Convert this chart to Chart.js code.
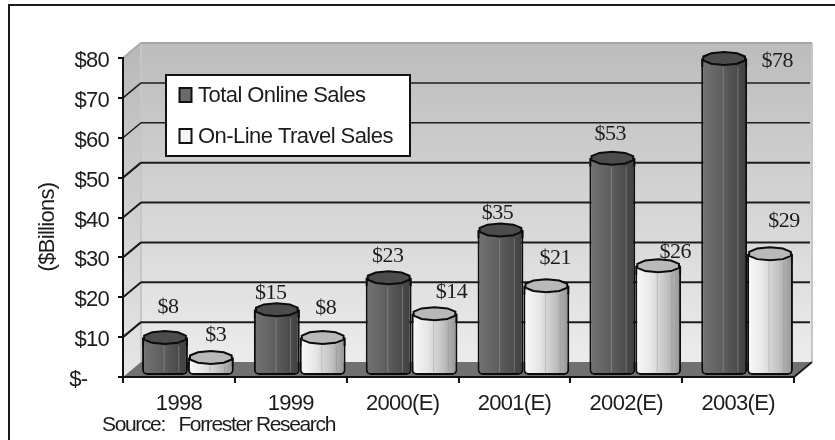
<!DOCTYPE html>
<html>
<head>
<meta charset="utf-8">
<style>
  html, body { margin: 0; padding: 0; background: #fff; }
  canvas { display: block; }
</style>
</head>
<body>
<canvas id="sales" width="835" height="440"></canvas>
<script src="https://cdn.jsdelivr.net/npm/chart.js@4/dist/chart.umd.min.js"></script>
<script>
const categories = ['1998', '1999', '2000(E)', '2001(E)', '2002(E)', '2003(E)']
const totalOnlineSales = [8, 15, 23, 35, 53, 78]
const onlineTravelSales = [3, 8, 14, 21, 26, 29]
const yTickLabels = ['$-', '$10', '$20', '$30', '$40', '$50', '$60', '$70', '$80']

// where each value label sits relative to the top of its bar
const totalLabelOffsets = [[3, -38], [-6, -24], [-1, -29], [-3, -24], [-2, -31], [53, -5]]
const travelLabelOffsets = [[5, -30], [3, -37], [17, -29], [9, -35], [17, -21], [14, -40]]

const SANS = '"Liberation Sans", Arial, sans-serif'
const SERIF = '"Liberation Serif", "Times New Roman", serif'
const DEPTH_X = 18
const DEPTH_Y = 15
const BAR_SHIFT = 9
const CAP_H = 13

const darkStops = [[0, '#747474'], [0.5, '#5c5c5c'], [1, '#3e3e3e']]
const lightStops = [[0, '#fbfbfb'], [0.35, '#e6e6e6'], [0.7, '#c0c0c0'], [1, '#929292']]

function barGradient(ctx, left, right, stops) {
  const g = ctx.createLinearGradient(left, 0, right, 0)
  stops.forEach(s => g.addColorStop(s[0], s[1]))
  return g
}

function line(ctx, x1, y1, x2, y2) {
  ctx.beginPath()
  ctx.moveTo(x1, y1)
  ctx.lineTo(x2, y2)
  ctx.stroke()
}

// faceted cap outline, a coarse ellipse
function capPath(ctx, cx, cy, rx, ry) {
  const sides = 10
  ctx.beginPath()
  for (let i = 0; i < sides; i++) {
    const a = (i + 0.5) / sides * Math.PI * 2
    ctx.lineTo(cx + Math.cos(a) * rx, cy + Math.sin(a) * ry)
  }
  ctx.closePath()
}

// frame, back wall, side wall, floor and the receding grid
const roomPlugin = {
  id: 'room',
  beforeDraw(chart) {
    const { ctx, chartArea: a, scales: { y } } = chart
    // condensed lettering for the axis text as well
    ctx.letterSpacing = '-0.7px'
    ctx.save()

    ctx.strokeStyle = '#1a1a1a'
    ctx.lineWidth = 2
    ctx.beginPath()
    ctx.moveTo(9, 440)
    ctx.lineTo(9, 5)
    ctx.lineTo(835, 5)
    ctx.stroke()

    const wall = ctx.createLinearGradient(0, a.top - DEPTH_Y, 0, a.bottom - DEPTH_Y)
    wall.addColorStop(0, '#bcbcbc')
    wall.addColorStop(1, '#ececec')
    ctx.fillStyle = wall
    ctx.fillRect(a.left + DEPTH_X, a.top - DEPTH_Y, a.width, a.height)

    const side = ctx.createLinearGradient(0, a.top - DEPTH_Y, 0, a.bottom)
    side.addColorStop(0, '#b8b8b8')
    side.addColorStop(1, '#e6e6e6')
    ctx.fillStyle = side
    ctx.beginPath()
    ctx.moveTo(a.left, a.top)
    ctx.lineTo(a.left + DEPTH_X, a.top - DEPTH_Y)
    ctx.lineTo(a.left + DEPTH_X, a.bottom - DEPTH_Y)
    ctx.lineTo(a.left, a.bottom)
    ctx.closePath()
    ctx.fill()

    ctx.fillStyle = '#717171'
    ctx.beginPath()
    ctx.moveTo(a.left, a.bottom)
    ctx.lineTo(a.left + DEPTH_X, a.bottom - DEPTH_Y)
    ctx.lineTo(a.right + DEPTH_X, a.bottom - DEPTH_Y)
    ctx.lineTo(a.right, a.bottom)
    ctx.closePath()
    ctx.fill()

    // wall edges
    ctx.strokeStyle = '#c6c6c6'
    ctx.lineWidth = 2
    line(ctx, a.left + DEPTH_X, a.top - DEPTH_Y, a.left + DEPTH_X, a.bottom - DEPTH_Y)
    line(ctx, a.right + DEPTH_X, a.top - DEPTH_Y, a.right + DEPTH_X, a.bottom - DEPTH_Y)
    ctx.strokeStyle = '#a8a8a8'
    line(ctx, a.left, a.top, a.left + DEPTH_X, a.top - DEPTH_Y)
    line(ctx, a.left + DEPTH_X, a.top - DEPTH_Y, a.right + DEPTH_X, a.top - DEPTH_Y)

    ctx.strokeStyle = '#1c1c1c'
    y.ticks.forEach(t => {
      if (t.value === 0 || t.value === y.max) return
      const py = y.getPixelForValue(t.value)
      // upper two rules are drawn a little finer
      ctx.lineWidth = t.value >= 60 ? 1.5 : 2
      line(ctx, a.left, py, a.left + DEPTH_X, py - DEPTH_Y)
      line(ctx, a.left + DEPTH_X, py - DEPTH_Y, a.right + DEPTH_X - 2, py - DEPTH_Y)
    })
    ctx.lineWidth = 2
    line(ctx, a.right, a.bottom, a.right + DEPTH_X, a.bottom - DEPTH_Y)
    ctx.restore()
  }
}

// bars sit mid-floor, so push them into the room and round them off with a cap
const cylinderPlugin = {
  id: 'cylinder',
  beforeDatasetDraw(chart) {
    chart.ctx.save()
    chart.ctx.translate(BAR_SHIFT, -1)
  },
  afterDatasetDraw(chart, args) {
    const ctx = chart.ctx
    const isDark = args.index === 0
    const stops = isDark ? darkStops : lightStops
    args.meta.data.forEach(bar => {
      const left = bar.x - bar.width / 2
      const right = bar.x + bar.width / 2
      const mid = bar.y - CAP_H / 2

      // shoulders up to the middle of the cap
      ctx.fillStyle = barGradient(ctx, left, right, stops)
      ctx.fillRect(left, mid, bar.width, CAP_H / 2 + 1)
      ctx.strokeStyle = '#0c0c0c'
      ctx.lineWidth = 2
      line(ctx, left + 1, mid, left + 1, bar.y + 2)
      line(ctx, right - 1, mid, right - 1, bar.y + 2)

      // facet lines
      ctx.strokeStyle = isDark ? 'rgba(170,170,170,0.45)' : 'rgba(120,120,120,0.3)'
      ctx.lineWidth = 1
      line(ctx, bar.x - bar.width * 0.02, bar.y + 2, bar.x - bar.width * 0.02, bar.base - 3)
      line(ctx, bar.x + bar.width * 0.3, bar.y + 2, bar.x + bar.width * 0.3, bar.base - 3)

      ctx.fillStyle = isDark ? '#4c4c4c' : '#b9b9b9'
      ctx.strokeStyle = '#0c0c0c'
      ctx.lineWidth = 2
      capPath(ctx, bar.x, mid, bar.width / 2 - 1, CAP_H / 2)
      ctx.fill()
      ctx.stroke()
    })
    ctx.restore()
  }
}

// value labels, legend box and the two free-standing captions
const annotationPlugin = {
  id: 'annotation',
  afterDraw(chart) {
    const ctx = chart.ctx
    ctx.save()

    ctx.font = '22px ' + SERIF
    ctx.letterSpacing = '-0.5px'
    ctx.fillStyle = '#1c1c1c'
    ctx.textAlign = 'center'
    ctx.textBaseline = 'middle'
    const offsets = [totalLabelOffsets, travelLabelOffsets]
    chart.data.datasets.forEach((ds, d) => {
      chart.getDatasetMeta(d).data.forEach((bar, i) => {
        const o = offsets[d][i]
        ctx.fillText('$' + ds.data[i], bar.x + BAR_SHIFT + o[0], bar.y + o[1])
      })
    })

    // legend
    ctx.fillStyle = '#fff'
    ctx.strokeStyle = '#111'
    ctx.lineWidth = 2
    ctx.fillRect(166, 75, 244, 81)
    ctx.strokeRect(166, 75, 244, 81)
    ctx.textAlign = 'left'
    ctx.font = '22px ' + SANS
    ctx.letterSpacing = '-0.55px'
    chart.data.datasets.forEach((ds, d) => {
      const rowY = 95 + d * 41
      ctx.fillStyle = d === 0 ? '#6a6a6a' : '#f4f4f4'
      ctx.fillRect(179.5, rowY - 7, 12, 14)
      ctx.strokeRect(179.5, rowY - 7, 12, 14)
      ctx.fillStyle = '#1c1c1c'
      ctx.fillText(ds.label, 198, rowY + 1)
    })

    ctx.font = '21px ' + SANS
    ctx.letterSpacing = '-1.35px'
    ctx.fillText('Source:   Forrester Research', 102, 425)

    ctx.translate(48, 227)
    ctx.rotate(-Math.PI / 2)
    ctx.textAlign = 'center'
    ctx.font = '22px ' + SANS
    ctx.letterSpacing = '-0.7px'
    ctx.fillText('($Billions)', 0, 0)
    ctx.restore()
  }
}

const salesData = {
  labels: categories,
  datasets: [{
    label: 'Total Online Sales',
    data: totalOnlineSales,
    backgroundColor: c => fillFor(c, darkStops, -1)
  },
  {
    label: 'On-Line Travel Sales',
    data: onlineTravelSales,
    backgroundColor: c => fillFor(c, lightStops, 1)
  }
]
};

const BAR_W = 111.83 * 0.82 / 2

function fillFor(c, stops, side) {
  const x = c.chart.scales.x
  const pixel = x ? x.getPixelForValue(c.dataIndex) : NaN
  // scales are not laid out yet on the first pass
  if (!Number.isFinite(pixel)) return stops[1][1]
  const center = pixel + side * BAR_W / 2
  return barGradient(c.chart.ctx, center - BAR_W / 2, center + BAR_W / 2, stops)
}

const salesConfig = {
  type: 'bar',
  data: salesData,
  options: {
    responsive: false,
    animation: false,
    layout: { padding: { top: 58, right: 41, left: 0, bottom: 0 } },
    datasets: {
      bar: {
        categoryPercentage: 0.82,
        barPercentage: 1,
        borderColor: '#0c0c0c',
        borderWidth: 2,
        borderSkipped: 'top',
        borderRadius: { bottomLeft: 5, bottomRight: 5 },
        inflateAmount: 0
      }
    },
    scales: {
      x: {
        afterFit(scale) { scale.height = 63 },
        grid: { drawOnChartArea: false, color: '#111', lineWidth: 2, tickLength: 6 },
        border: { color: '#111', width: 2 },
        ticks: {
          color: '#1c1c1c',
          padding: 8,
          maxRotation: 0,
          font: { family: SANS, size: 22 }
        }
      },
      y: {
        min: 0,
        max: 80,
        afterFit(scale) { scale.width = 123 },
        grid: { drawOnChartArea: false, color: '#111', lineWidth: 2, tickLength: 5 },
        border: { color: '#111', width: 2 },
        ticks: {
          stepSize: 10,
          color: '#1c1c1c',
          padding: 9,
          labelOffset: 3,
          font: { family: SANS, size: 22 },
          // the zero label hangs further left, as in accounting format
          callback: (v, i) => i === 0 ? yTickLabels[0] + '\u00a0\u00a0\u00a0\u00a0' : yTickLabels[i]
        }
      }
    },
    plugins: {
      legend: { display: false },
      tooltip: { enabled: false }
    }
  },
  plugins: [roomPlugin, cylinderPlugin, annotationPlugin]
};

const salesChart = new Chart(document.getElementById('sales').getContext('2d'), salesConfig)
</script>
</body>
</html>
